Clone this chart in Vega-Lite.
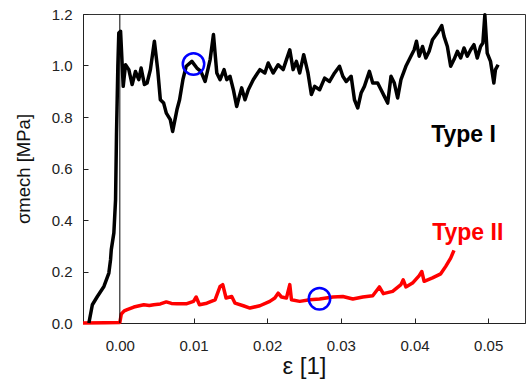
{
  "$schema": "https://vega.github.io/schema/vega-lite/v6.json",
  "width": 442,
  "height": 309,
  "autosize": {"type": "none"},
  "padding": {"left": 83, "top": 14, "right": 3, "bottom": 59},
  "background": "white",
  "datasets": {
    "curves": [
      {"s": "II", "x": -0.005, "y": 0.0},
      {"s": "II", "x": -0.002, "y": 0.001},
      {"s": "II", "x": 0.0, "y": 0.002},
      {"s": "II", "x": 0.0002, "y": 0.035},
      {"s": "II", "x": 0.0006, "y": 0.047},
      {"s": "II", "x": 0.001, "y": 0.052},
      {"s": "II", "x": 0.0019, "y": 0.062},
      {"s": "II", "x": 0.0025, "y": 0.066},
      {"s": "II", "x": 0.00325, "y": 0.071},
      {"s": "II", "x": 0.004, "y": 0.068},
      {"s": "II", "x": 0.0046, "y": 0.071},
      {"s": "II", "x": 0.0055, "y": 0.074},
      {"s": "II", "x": 0.00631, "y": 0.082},
      {"s": "II", "x": 0.007, "y": 0.076},
      {"s": "II", "x": 0.00775, "y": 0.075},
      {"s": "II", "x": 0.0091, "y": 0.075},
      {"s": "II", "x": 0.01, "y": 0.084},
      {"s": "II", "x": 0.01036, "y": 0.101},
      {"s": "II", "x": 0.01081, "y": 0.071},
      {"s": "II", "x": 0.01181, "y": 0.077},
      {"s": "II", "x": 0.01293, "y": 0.09},
      {"s": "II", "x": 0.01361, "y": 0.142},
      {"s": "II", "x": 0.01397, "y": 0.149},
      {"s": "II", "x": 0.01442, "y": 0.097},
      {"s": "II", "x": 0.01519, "y": 0.103},
      {"s": "II", "x": 0.01564, "y": 0.077},
      {"s": "II", "x": 0.01676, "y": 0.067},
      {"s": "II", "x": 0.01766, "y": 0.058},
      {"s": "II", "x": 0.01901, "y": 0.067},
      {"s": "II", "x": 0.02036, "y": 0.084},
      {"s": "II", "x": 0.02104, "y": 0.097},
      {"s": "II", "x": 0.02149, "y": 0.116},
      {"s": "II", "x": 0.02194, "y": 0.101},
      {"s": "II", "x": 0.02262, "y": 0.097},
      {"s": "II", "x": 0.02307, "y": 0.149},
      {"s": "II", "x": 0.0233, "y": 0.09},
      {"s": "II", "x": 0.02442, "y": 0.084},
      {"s": "II", "x": 0.02577, "y": 0.09},
      {"s": "II", "x": 0.02712, "y": 0.093},
      {"s": "II", "x": 0.02892, "y": 0.101},
      {"s": "II", "x": 0.03027, "y": 0.103},
      {"s": "II", "x": 0.03163, "y": 0.093},
      {"s": "II", "x": 0.03298, "y": 0.101},
      {"s": "II", "x": 0.03433, "y": 0.106},
      {"s": "II", "x": 0.03523, "y": 0.14},
      {"s": "II", "x": 0.03577, "y": 0.114},
      {"s": "II", "x": 0.03703, "y": 0.123},
      {"s": "II", "x": 0.03816, "y": 0.149},
      {"s": "II", "x": 0.03847, "y": 0.168},
      {"s": "II", "x": 0.03883, "y": 0.14},
      {"s": "II", "x": 0.03973, "y": 0.155},
      {"s": "II", "x": 0.04064, "y": 0.184},
      {"s": "II", "x": 0.04099, "y": 0.2},
      {"s": "II", "x": 0.04131, "y": 0.162},
      {"s": "II", "x": 0.04244, "y": 0.175},
      {"s": "II", "x": 0.04356, "y": 0.191},
      {"s": "II", "x": 0.04424, "y": 0.22},
      {"s": "II", "x": 0.04491, "y": 0.252},
      {"s": "II", "x": 0.04536, "y": 0.282},

      {"s": "I", "x": -0.0042, "y": 0.0},
      {"s": "I", "x": -0.00373, "y": 0.071},
      {"s": "I", "x": -0.00305, "y": 0.103},
      {"s": "I", "x": -0.00216, "y": 0.142},
      {"s": "I", "x": -0.00149, "y": 0.194},
      {"s": "I", "x": -0.00126, "y": 0.246},
      {"s": "I", "x": -0.00116, "y": 0.285},
      {"s": "I", "x": -0.00081, "y": 0.35},
      {"s": "I", "x": -0.00058, "y": 0.479},
      {"s": "I", "x": -0.00045, "y": 0.738},
      {"s": "I", "x": -0.00027, "y": 0.997},
      {"s": "I", "x": -0.00014, "y": 1.126},
      {"s": "I", "x": 0.0001, "y": 1.133},
      {"s": "I", "x": 0.00046, "y": 0.919},
      {"s": "I", "x": 0.00077, "y": 1.003},
      {"s": "I", "x": 0.00122, "y": 0.984},
      {"s": "I", "x": 0.00167, "y": 0.926},
      {"s": "I", "x": 0.00212, "y": 0.977},
      {"s": "I", "x": 0.00257, "y": 0.945},
      {"s": "I", "x": 0.00289, "y": 0.99},
      {"s": "I", "x": 0.00334, "y": 0.926},
      {"s": "I", "x": 0.0037, "y": 0.932},
      {"s": "I", "x": 0.00415, "y": 0.984},
      {"s": "I", "x": 0.00469, "y": 1.094},
      {"s": "I", "x": 0.00514, "y": 0.984},
      {"s": "I", "x": 0.0055, "y": 0.867},
      {"s": "I", "x": 0.00595, "y": 0.854},
      {"s": "I", "x": 0.00631, "y": 0.815},
      {"s": "I", "x": 0.00685, "y": 0.79},
      {"s": "I", "x": 0.00717, "y": 0.744},
      {"s": "I", "x": 0.00775, "y": 0.828},
      {"s": "I", "x": 0.00811, "y": 0.867},
      {"s": "I", "x": 0.00856, "y": 0.945},
      {"s": "I", "x": 0.00901, "y": 0.997},
      {"s": "I", "x": 0.00978, "y": 1.016},
      {"s": "I", "x": 0.01046, "y": 0.99},
      {"s": "I", "x": 0.011, "y": 0.977},
      {"s": "I", "x": 0.01158, "y": 0.938},
      {"s": "I", "x": 0.01226, "y": 1.023},
      {"s": "I", "x": 0.01271, "y": 1.12},
      {"s": "I", "x": 0.01316, "y": 0.971},
      {"s": "I", "x": 0.01361, "y": 0.945},
      {"s": "I", "x": 0.01415, "y": 0.984},
      {"s": "I", "x": 0.01451, "y": 0.945},
      {"s": "I", "x": 0.01496, "y": 0.958},
      {"s": "I", "x": 0.01541, "y": 0.906},
      {"s": "I", "x": 0.01586, "y": 0.841},
      {"s": "I", "x": 0.01622, "y": 0.88},
      {"s": "I", "x": 0.01654, "y": 0.913},
      {"s": "I", "x": 0.01699, "y": 0.867},
      {"s": "I", "x": 0.01744, "y": 0.906},
      {"s": "I", "x": 0.01811, "y": 0.945},
      {"s": "I", "x": 0.01901, "y": 0.984},
      {"s": "I", "x": 0.01969, "y": 0.971},
      {"s": "I", "x": 0.02014, "y": 1.01},
      {"s": "I", "x": 0.02081, "y": 0.971},
      {"s": "I", "x": 0.02149, "y": 1.003},
      {"s": "I", "x": 0.02217, "y": 0.984},
      {"s": "I", "x": 0.02262, "y": 1.023},
      {"s": "I", "x": 0.02307, "y": 1.061},
      {"s": "I", "x": 0.02352, "y": 0.984},
      {"s": "I", "x": 0.02397, "y": 1.016},
      {"s": "I", "x": 0.02442, "y": 0.971},
      {"s": "I", "x": 0.02496, "y": 1.042},
      {"s": "I", "x": 0.02554, "y": 0.971},
      {"s": "I", "x": 0.026, "y": 0.887},
      {"s": "I", "x": 0.02645, "y": 0.919},
      {"s": "I", "x": 0.02712, "y": 0.906},
      {"s": "I", "x": 0.0278, "y": 0.951},
      {"s": "I", "x": 0.02847, "y": 0.938},
      {"s": "I", "x": 0.02915, "y": 0.971},
      {"s": "I", "x": 0.02982, "y": 0.997},
      {"s": "I", "x": 0.03027, "y": 0.958},
      {"s": "I", "x": 0.03073, "y": 0.938},
      {"s": "I", "x": 0.0314, "y": 0.958},
      {"s": "I", "x": 0.03185, "y": 0.867},
      {"s": "I", "x": 0.0323, "y": 0.835},
      {"s": "I", "x": 0.03275, "y": 0.893},
      {"s": "I", "x": 0.0332, "y": 0.919},
      {"s": "I", "x": 0.03388, "y": 0.977},
      {"s": "I", "x": 0.03433, "y": 0.932},
      {"s": "I", "x": 0.035, "y": 0.932},
      {"s": "I", "x": 0.03546, "y": 0.906},
      {"s": "I", "x": 0.03591, "y": 0.88},
      {"s": "I", "x": 0.03636, "y": 0.854},
      {"s": "I", "x": 0.03681, "y": 0.958},
      {"s": "I", "x": 0.03726, "y": 0.932},
      {"s": "I", "x": 0.03771, "y": 0.874},
      {"s": "I", "x": 0.03816, "y": 0.945},
      {"s": "I", "x": 0.03883, "y": 0.997},
      {"s": "I", "x": 0.03951, "y": 1.036},
      {"s": "I", "x": 0.03996, "y": 1.061},
      {"s": "I", "x": 0.04027, "y": 1.094},
      {"s": "I", "x": 0.04064, "y": 1.036},
      {"s": "I", "x": 0.04109, "y": 1.074},
      {"s": "I", "x": 0.04154, "y": 1.029},
      {"s": "I", "x": 0.04199, "y": 1.055},
      {"s": "I", "x": 0.04244, "y": 1.1},
      {"s": "I", "x": 0.04311, "y": 1.126},
      {"s": "I", "x": 0.0437, "y": 1.155},
      {"s": "I", "x": 0.04401, "y": 1.113},
      {"s": "I", "x": 0.04446, "y": 1.074},
      {"s": "I", "x": 0.04491, "y": 0.997},
      {"s": "I", "x": 0.04536, "y": 1.023},
      {"s": "I", "x": 0.04582, "y": 1.055},
      {"s": "I", "x": 0.04627, "y": 1.029},
      {"s": "I", "x": 0.04672, "y": 1.068},
      {"s": "I", "x": 0.04717, "y": 1.036},
      {"s": "I", "x": 0.04762, "y": 1.061},
      {"s": "I", "x": 0.04807, "y": 1.081},
      {"s": "I", "x": 0.04852, "y": 1.029},
      {"s": "I", "x": 0.04897, "y": 1.074},
      {"s": "I", "x": 0.04928, "y": 1.087},
      {"s": "I", "x": 0.04955, "y": 1.197},
      {"s": "I", "x": 0.04987, "y": 1.048},
      {"s": "I", "x": 0.05032, "y": 1.016},
      {"s": "I", "x": 0.05077, "y": 0.932},
      {"s": "I", "x": 0.05099, "y": 0.984},
      {"s": "I", "x": 0.05135, "y": 1.003}
    ],
    "marks": [
      {"x": 0.0100, "y": 1.006},
      {"x": 0.0271, "y": 0.094}
    ],
    "labels": [
      {"label": "Type I", "s": "I", "x": 0.04226, "y": 0.703},
      {"label": "Type II", "s": "II", "x": 0.0424, "y": 0.3235}
    ]
  },
  "layer": [
    {
      "data": {"name": "curves"},
      "mark": {"type": "line", "strokeWidth": 3.5, "strokeJoin": "round"},
      "encoding": {
        "x": {
          "field": "x", "type": "quantitative",
          "scale": {"domain": [-0.005, 0.055], "nice": false, "zero": false},
          "axis": {
            "title": "ε [1]",
            "values": [0, 0.01, 0.02, 0.03, 0.04, 0.05],
            "format": ".2f",
            "tickSize": -5,
            "labelPadding": 20,
            "titlePadding": 1,
            "titleFontSize": 24
          }
        },
        "y": {
          "field": "y", "type": "quantitative",
          "scale": {"domain": [0, 1.2], "nice": false},
          "axis": {
            "title": "σmech [MPa]",
            "values": [0, 0.1, 0.2, 0.3, 0.4, 0.5, 0.6, 0.7, 0.8, 0.9, 1.0, 1.1, 1.2],
            "labelExpr": "abs(datum.value*5 - round(datum.value*5)) < 0.001 ? format(datum.value, '.1f') : ''",
            "tickSize": {"condition": {"test": "abs(datum.value*5 - round(datum.value*5)) < 0.001", "value": -5}, "value": -3},
            "labelPadding": 16,
            "labelOverlap": false,
            "titlePadding": 18,
            "titleFontSize": 18.5,
            "labelFlush": false
          }
        },
        "color": {
          "field": "s", "type": "nominal",
          "scale": {"domain": ["I", "II"], "range": ["#000000", "#ff0000"]},
          "legend": null
        },
        "order": {"field": "x", "type": "quantitative"}
      }
    },
    {
      "data": {"values": [{"zero": 0}]},
      "mark": {"type": "rule", "color": "black", "strokeWidth": 1},
      "encoding": {"x": {"field": "zero", "type": "quantitative"}}
    },
    {
      "data": {"name": "marks"},
      "mark": {"type": "point", "shape": "circle", "filled": false, "color": "#0000ff", "strokeWidth": 2.5, "size": 460, "opacity": 1},
      "encoding": {
        "x": {"field": "x", "type": "quantitative"},
        "y": {"field": "y", "type": "quantitative"}
      }
    },
    {
      "data": {"name": "labels"},
      "mark": {"type": "text", "align": "left", "baseline": "alphabetic", "font": "Liberation Sans", "fontSize": 23, "fontWeight": "bold"},
      "encoding": {
        "x": {"field": "x", "type": "quantitative"},
        "y": {"field": "y", "type": "quantitative"},
        "text": {"field": "label"},
        "color": {"field": "s", "type": "nominal", "legend": null}
      }
    }
  ],
  "config": {
    "view": {"stroke": "#333333", "strokeWidth": 1},
    "axis": {
      "grid": false,
      "domainColor": "#222222",
      "tickColor": "#222222",
      "labelFont": "Liberation Sans",
      "titleFont": "Liberation Sans",
      "labelFontSize": 15,
      "labelColor": "#222222",
      "titleColor": "#111111",
      "titleFontWeight": "normal"
    }
  }
}
